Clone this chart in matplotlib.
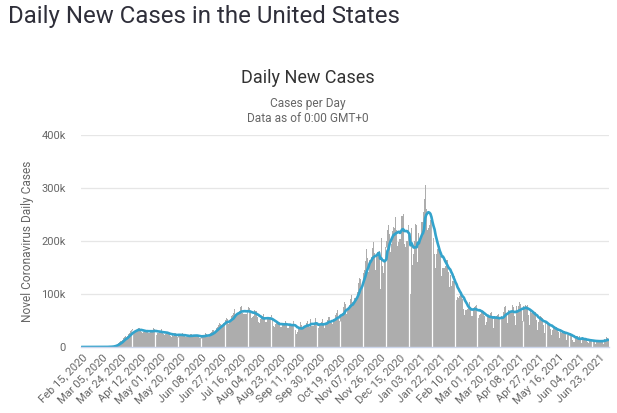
import numpy as np
import pandas as pd
import matplotlib
matplotlib.use("Agg")
import matplotlib.pyplot as plt

plt.rcParams['font.family'] = ['Roboto', 'DejaVu Sans']

start_date = "2020-02-15"

# daily new cases in thousands, one row per week (Sat .. Fri)
daily_k = [
    0.0, 0.0, 0.0, 0.0, 0.0, 0.0, 0.01,
    0.0, 0.0, 0.0, 0.0, 0.0, 0.0, 0.01,
    0.01, 0.01, 0.02, 0.03, 0.03, 0.05, 0.07,
    0.1, 0.1, 0.2, 0.3, 0.4, 0.5, 0.7,
    0.8, 0.9, 1.4, 2.0, 3.5, 4.6, 5.8,
    6.9, 9.0, 10.5, 11.2, 13.4, 17.5, 18.6,
    20.0, 18.5, 20.0, 25.0, 26.0, 29.5, 32.5,
    34.0, 26.5, 30.0, 32.5, 33.0, 36.0, 35.0,
    31.5, 28.0, 26.5, 28.0, 30.5, 32.0, 32.5,
    32.5, 26.5, 27.0, 27.5, 30.0, 32.0, 35.5,
    33.5, 26.5, 23.5, 25.5, 28.5, 30.5, 33.5,
    29.5, 25.0, 22.5, 24.5, 26.0, 28.0, 27.5,
    25.0, 20.0, 19.5, 22.5, 21.5, 27.0, 25.5,
    24.0, 19.0, 22.0, 21.0, 22.0, 25.5, 24.0,
    22.5, 19.0, 18.5, 19.5, 19.5, 22.5, 24.5,
    24.0, 19.0, 21.0, 20.0, 20.5, 22.5, 23.5,
    20.5, 17.5, 17.5, 19.0, 21.5, 23.0, 25.5,
    24.5, 19.5, 18.0, 22.0, 26.0, 28.5, 32.5,
    32.0, 28.5, 31.0, 35.5, 37.0, 41.0, 45.0,
    43.0, 41.0, 42.0, 46.0, 51.0, 55.0, 52.0,
    44.0, 45.0, 50.0, 59.0, 61.0, 64.0, 71.0,
    63.0, 60.0, 61.0, 66.0, 67.0, 75.0, 77.0,
    65.0, 62.0, 62.0, 63.0, 68.0, 76.0, 74.0,
    65.0, 55.0, 57.0, 58.0, 69.0, 68.0, 67.0,
    56.0, 48.0, 45.0, 52.0, 55.0, 59.0, 62.0,
    57.0, 48.0, 47.0, 53.0, 53.0, 56.0, 61.0,
    53.0, 39.0, 38.0, 43.0, 45.0, 47.0, 46.0,
    47.0, 37.0, 38.0, 41.0, 44.0, 46.0, 50.0,
    43.0, 35.0, 36.0, 42.0, 39.0, 44.0, 50.0,
    43.0, 32.0, 25.0, 28.0, 35.0, 36.0, 48.0,
    41.0, 34.0, 36.0, 39.0, 39.0, 45.0, 50.0,
    42.0, 37.0, 52.0, 40.0, 39.0, 45.0, 55.0,
    45.0, 34.0, 36.0, 43.0, 41.0, 47.0, 52.0,
    46.0, 36.0, 42.0, 45.0, 51.0, 57.0, 56.0,
    47.0, 45.0, 44.0, 52.0, 60.0, 64.0, 70.0,
    53.0, 50.0, 61.0, 62.0, 64.0, 75.0, 84.0,
    81.0, 63.0, 68.0, 74.0, 80.0, 91.0, 99.0,
    85.0, 85.0, 92.0, 92.0, 104.0, 121.0, 131.0,
    128.0, 107.0, 120.0, 140.0, 145.0, 163.0, 184.0,
    167.0, 141.0, 164.0, 162.0, 170.0, 187.0, 198.0,
    178.0, 145.0, 175.0, 180.0, 182.0, 110.0, 205.0,
    152.0, 139.0, 163.0, 189.0, 200.0, 220.0, 230.0,
    214.0, 180.0, 195.0, 218.0, 226.0, 224.0, 245.0,
    220.0, 190.0, 199.0, 203.0, 247.0, 248.0, 250.0,
    195.0, 189.0, 200.0, 200.0, 230.0, 229.0, 100.0,
    225.0, 155.0, 175.0, 200.0, 233.0, 230.0, 160.0,
    215.0, 200.0, 210.0, 235.0, 255.0, 280.0, 305.0,
    260.0, 220.0, 225.0, 230.0, 240.0, 238.0, 240.0,
    205.0, 175.0, 150.0, 175.0, 185.0, 190.0, 190.0,
    171.0, 134.0, 150.0, 150.0, 152.0, 165.0, 165.0,
    142.0, 113.0, 136.0, 116.0, 125.0, 125.0, 134.0,
    105.0, 88.0, 95.0, 93.0, 96.0, 105.0, 100.0,
    90.0, 72.0, 60.0, 70.0, 72.0, 75.0, 85.0,
    76.0, 58.0, 58.0, 72.0, 75.0, 78.0, 80.0,
    68.0, 54.0, 60.0, 63.0, 70.0, 68.0, 68.0,
    58.0, 42.0, 48.0, 60.0, 58.0, 64.0, 66.0,
    55.0, 36.0, 54.0, 56.0, 58.0, 60.0, 63.0,
    54.0, 37.0, 58.0, 56.0, 66.0, 76.0, 78.0,
    64.0, 45.0, 70.0, 66.0, 68.0, 80.0, 76.0,
    58.0, 42.0, 78.0, 66.0, 78.0, 85.0, 82.0,
    68.0, 50.0, 78.0, 76.0, 80.0, 78.0, 80.0,
    60.0, 42.0, 68.0, 65.0, 68.0, 66.0, 66.0,
    51.0, 32.0, 48.0, 54.0, 58.0, 56.0, 55.0,
    41.0, 26.0, 45.0, 45.0, 46.0, 46.0, 44.0,
    34.0, 23.0, 33.0, 35.0, 37.0, 38.0, 36.0,
    28.0, 17.0, 29.0, 27.0, 30.0, 30.0, 31.0,
    24.0, 14.0, 23.0, 22.0, 25.0, 26.0, 24.0,
    14.0, 10.0, 9.0, 20.0, 20.0, 16.0, 20.0,
    14.0, 8.0, 17.0, 14.0, 15.0, 17.0, 15.0,
    10.0, 7.0, 13.0, 12.0, 14.0, 13.0, 14.0,
    9.0, 5.0, 12.0, 11.0, 13.0, 13.0, 14.0,
    9.0, 6.0, 16.0, 13.0, 18.0, 17.0, 16.0,
]

ytick_vals = [0, 100000, 200000, 300000, 400000]
ytick_labels = ["0", "100k", "200k", "300k", "400k"]

cases = np.array(daily_k) * 1000
dates = pd.date_range(start_date, periods=len(cases), freq="D")
avg7 = pd.Series(cases).rolling(7, min_periods=1).mean()
x = np.arange(len(cases))

fig = plt.figure(figsize=(6.17, 4.13), dpi=100)
ax = fig.add_axes([81 / 617, 1 - 347 / 413, 528 / 617, 212 / 413])

ax.bar(x, cases, width=1.0, color="#adadad", linewidth=0)
# white seams between columns like in the original rendering
seams = np.round(np.arange(48.2, len(cases), 21.95)).astype(int)
ax.vlines(seams + 0.5, 0, cases[seams], color="white", lw=0.9)
ax.plot(x, avg7, color="#33a3cc", lw=1.9, solid_capstyle="round")

ax.set_xlim(-0.5, len(cases) - 0.5)
ax.set_ylim(0, 400000)
ax.set_yticks(ytick_vals)
ax.set_yticklabels(ytick_labels)
ax.set_xticks(x[::19])
ax.set_xticklabels([d.strftime("%b %d, %Y") for d in dates[::19]],
                   rotation=45, ha="right", rotation_mode="anchor")
ax.tick_params(axis="y", length=0, pad=11, labelsize=8, labelcolor="#666666")
ax.tick_params(axis="x", length=0, pad=4, labelsize=8, labelcolor="#666666")
ax.grid(axis="y", color="#e6e6e6", lw=0.9)
ax.set_axisbelow(True)
for s in ["top", "right", "left"]:
    ax.spines[s].set_visible(False)
ax.spines["bottom"].set_color("#ccd6eb")
ax.spines["bottom"].set_linewidth(1.0)

fig.text(28 / 617, 1 - 241 / 413, "Novel Coronavirus Daily Cases", rotation=90,
         ha="center", va="center", fontsize=8.6, color="#666666")
fig.text(8 / 617, 1 - 16 / 413, "Daily New Cases in the United States",
         fontsize=17.3, color="#2f2f3a", ha="left", va="center")
fig.text(308 / 617, 1 - 78 / 413, "Daily New Cases", fontsize=13,
         color="#333333", ha="center", va="center")
fig.text(308 / 617, 1 - 103 / 413, "Cases per Day", fontsize=8.6,
         color="#666666", ha="center", va="center")
fig.text(308 / 617, 1 - 119 / 413, "Data as of 0:00 GMT+0", fontsize=8.6,
         color="#666666", ha="center", va="center")

fig.savefig("out.png", dpi=100)
